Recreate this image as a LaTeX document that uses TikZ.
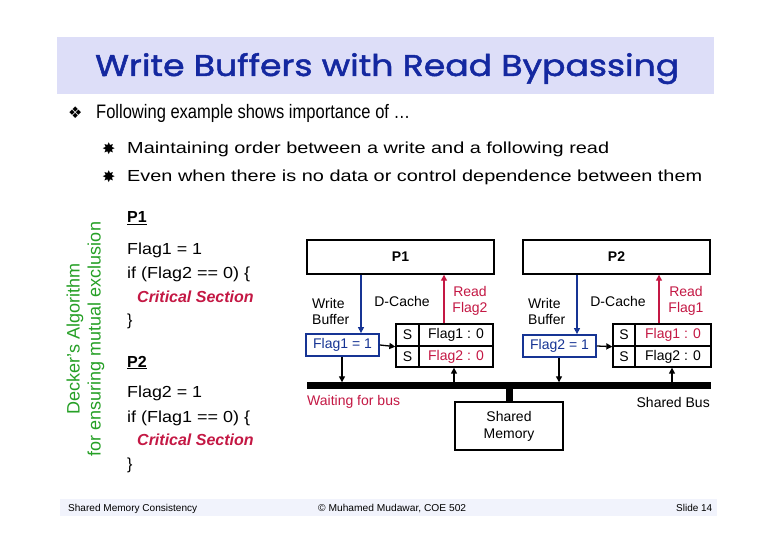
\documentclass[tikz,border=0pt]{standalone}
\usepackage{fontspec}
\setmainfont{Liberation Sans}
\newfontfamily\symfont{DejaVu Sans}
\newfontfamily\ttlfont[FakeBold=1.6]{Poppins}
\usetikzlibrary{arrows.meta}
\newcommand{\fitw}[2]{\resizebox{#1}{\height}{#2}}
\definecolor{titlebg}{RGB}{221,222,248}
\definecolor{titleblue}{RGB}{20,40,160}
\definecolor{crim}{RGB}{196,24,68}
\definecolor{dgreen}{RGB}{38,160,38}
\definecolor{boxblue}{RGB}{22,52,148}
\definecolor{footbg}{RGB}{241,243,252}
\begin{document}
\begin{tikzpicture}[x=1pt,y=-1pt,
  txt/.style={anchor=base west,inner sep=0pt},
  dtxt/.style={inner sep=0pt,font=\fontsize{14}{16}\selectfont},
  procbox/.style={draw,line width=1.4pt,minimum width=187pt,minimum height=34pt,inner sep=0pt,font=\bfseries\fontsize{14}{16}\selectfont},
  wbuf/.style={draw=boxblue,line width=1.8pt,minimum width=73pt,minimum height=22pt,inner sep=0pt,text=boxblue,font=\fontsize{14}{16}\selectfont},
  cell/.style={draw,line width=1.3pt,inner sep=0pt,font=\fontsize{14}{16}\selectfont},
  arr/.style={line width=1.3pt,-{Triangle[length=6pt,width=6pt]}},
  barr/.style={arr,draw=boxblue},
  rarr/.style={arr,draw=crim}
]
\useasboundingbox (0,0) rectangle (780,540);
\fill[white] (0,0) rectangle (780,540);

% title band
\fill[titlebg] (57,37) rectangle (714,94);
\node[txt,text=titleblue] (title) at (95,76) {\ttlfont\fontsize{30}{34}\selectfont\fitw{584pt}{Write Buffers with Read Bypassing}};

% bullets
\node[txt] (bm) at (68,119) {\symfont\fontsize{16}{18}\selectfont ❖};
\node[txt] (b0) at (96,119) {\fontsize{19.5}{23}\selectfont\fitw{314pt}{Following example shows importance of …}};
\node[txt] (bs1) at (102,155) {\symfont\fontsize{16}{18}\selectfont ✸};
\node[txt] (b1) at (127,154) {\fontsize{16}{19}\selectfont\fitw{482pt}{Maintaining order between a write and a following read}};
\node[txt] (bs2) at (102,183) {\symfont\fontsize{16}{18}\selectfont ✸};
\node[txt] (b2) at (127,182) {\fontsize{16}{19}\selectfont\fitw{575pt}{Even when there is no data or control dependence between them}};

% rotated green text
\node[rotate=90,text=dgreen,inner sep=0pt,font=\fontsize{18}{21}\selectfont] (dk1) at (75,339) {Decker’s Algorithm};
\node[rotate=90,text=dgreen,inner sep=0pt,font=\fontsize{18}{21}\selectfont] (dk2) at (96,339) {for ensuring mutual exclusion};

% code
\node[txt] (c1) at (127,223) {\fontsize{16}{19}\selectfont\bfseries\underline{P1}};
\node[txt] (c2) at (127,255) {\fontsize{16}{19}\selectfont\fitw{75pt}{Flag1 = 1}};
\node[txt] (c3) at (127,279) {\fontsize{16}{19}\selectfont\fitw{123pt}{if (Flag2 == 0) \{}};
\node[txt,text=crim] (c4) at (137,303) {\fontsize{16}{19}\selectfont\bfseries\itshape Critical Section};
\node[txt] (c5) at (127,326) {\fontsize{16}{19}\selectfont \}};
\node[txt] (c6) at (127,367) {\fontsize{16}{19}\selectfont\bfseries\underline{P2}};
\node[txt] (c7) at (127,398) {\fontsize{16}{19}\selectfont\fitw{75pt}{Flag2 = 1}};
\node[txt] (c8) at (127,422) {\fontsize{16}{19}\selectfont\fitw{123pt}{if (Flag1 == 0) \{}};
\node[txt,text=crim] (c9) at (137,446) {\fontsize{16}{19}\selectfont\bfseries\itshape Critical Section};
\node[txt] (c10) at (127,469) {\fontsize{16}{19}\selectfont \}};

% ---------- P1 side ----------
\node[procbox] (p1) at (400.5,257) {P1};
\node[wbuf] (wb1) at (342.5,345) {Flag1 = 1};
\node[dtxt,align=left,anchor=west] (wbl1) at (312,311) {Write\\Buffer};
\node[dtxt] (dc1) at (402,301) {D-Cache};
\node[dtxt,align=center,text=crim] (rd1) at (470,301) {Read\\Flag2};
\node[cell,minimum width=23pt,minimum height=22pt] (s1a) at (407.5,335) {S};
\node[cell,minimum width=74pt,minimum height=22pt] (f1a) at (456,335) {Flag1 : 0};
\node[cell,minimum width=23pt,minimum height=21pt] (s1b) at (407.5,356.5) {S};
\node[cell,minimum width=74pt,minimum height=21pt,text=crim] (f1b) at (456,356.5) {Flag2 : 0};

% ---------- P2 side ----------
\node[procbox] (p2) at (616.5,257) {P2};
\node[wbuf] (wb2) at (559.5,346) {Flag2 = 1};
\node[dtxt,align=left,anchor=west] (wbl2) at (528,311) {Write\\Buffer};
\node[dtxt] (dc2) at (618,301) {D-Cache};
\node[dtxt,align=center,text=crim] (rd2) at (686,301) {Read\\Flag1};
\node[cell,minimum width=22pt,minimum height=22pt] (s2a) at (624,335) {S};
\node[cell,minimum width=76pt,minimum height=22pt,text=crim] (f2a) at (673,335) {Flag1 : 0};
\node[cell,minimum width=22pt,minimum height=21pt] (s2b) at (624,356.5) {S};
\node[cell,minimum width=76pt,minimum height=21pt] (f2b) at (673,356.5) {Flag2 : 0};

% bus and memory
\coordinate (busL) at (307,385.5);
\coordinate (busR) at (711,385.5);
\draw[line width=6.5pt] (busL) -- (busR);
\node[draw,line width=1.4pt,minimum width=108pt,minimum height=48pt,align=center,inner sep=0pt,font=\fontsize{14}{17}\selectfont] (mem) at (509,426) {Shared\\Memory};
\draw[line width=7pt] (mem.north |- busL) -- (mem.north);
\node[dtxt,anchor=west,text=crim] (wait) at (307,402) {Waiting for bus};
\node[dtxt,anchor=east] (sbus) at (710,402) {Shared Bus};

% connectors P1
\coordinate (a1) at (361,0);
\coordinate (a2) at (444,0);
\coordinate (a3) at (342,0);
\coordinate (a4) at (454,0);
\draw[barr] (p1.south -| a1) -- (wb1.north -| a1);
\draw[rarr] (f1a.north -| a2) -- (p1.south -| a2);
\draw[arr] (wb1.east) -- (s1a.south west);
\draw[arr] (wb1.south -| a3) -- ([yshift=3.2pt]busL -| a3);
\draw[arr] ([yshift=3.2pt]busL -| a4) -- (f1b.south -| a4);

% connectors P2
\coordinate (b1c) at (577,0);
\coordinate (b2c) at (659,0);
\coordinate (b3c) at (559,0);
\coordinate (b4c) at (672,0);
\draw[barr] (p2.south -| b1c) -- (wb2.north -| b1c);
\draw[rarr] (f2a.north -| b2c) -- (p2.south -| b2c);
\draw[arr] (wb2.east) -- (s2a.south west);
\draw[arr] (wb2.south -| b3c) -- ([yshift=3.2pt]busL -| b3c);
\draw[arr] ([yshift=3.2pt]busL -| b4c) -- (f2b.south -| b4c);

% footer
\fill[footbg] (60,499) rectangle (717,516);
\node[txt] (ft1) at (68,511) {\fontsize{10}{12}\selectfont\fitw{129pt}{Shared Memory Consistency}};
\node[txt] (ft2) at (318,511) {\fontsize{10}{12}\selectfont\fitw{148pt}{© Muhamed Mudawar, COE 502}};
\node[txt] (ft3) at (676,511) {\fontsize{10}{12}\selectfont\fitw{36pt}{Slide 14}};
\end{tikzpicture}
\end{document}
